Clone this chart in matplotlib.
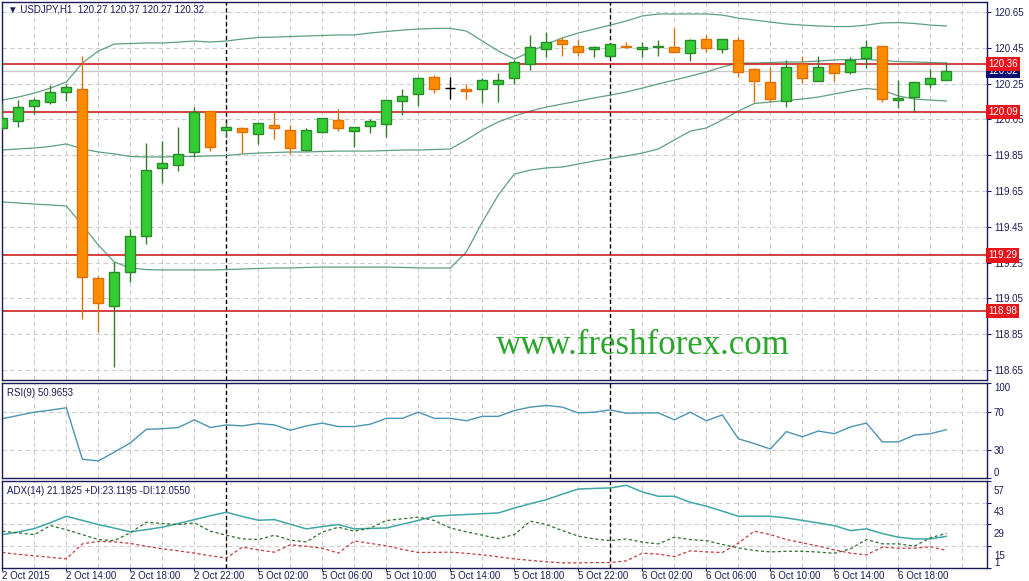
import numpy as np
import matplotlib
matplotlib.use("Agg")
import matplotlib.pyplot as plt
from matplotlib.transforms import blended_transform_factory, ScaledTranslation

# hourly USDJPY candles, 2 Oct 10:00 .. 6 Oct 21:00
opens = [120.002, 120.043, 120.127, 120.149, 120.205, 120.218, 119.162, 119.009, 119.196, 119.400,
         119.777, 119.794, 119.866, 120.095, 119.989, 120.002, 119.967, 120.019, 119.989, 119.879,
         119.978, 120.045, 119.987, 120.015, 120.026, 120.151, 120.190, 120.289, 120.227, 120.220,
         120.218, 120.246, 120.280, 120.358, 120.442, 120.494, 120.460, 120.442, 120.406, 120.462,
         120.442, 120.453, 120.453, 120.419, 120.499, 120.442, 120.494, 120.332, 120.257, 120.154,
         120.360, 120.266, 120.360, 120.317, 120.391, 120.460, 120.158, 120.177, 120.246, 120.270]
highs = [120.140, 120.158, 120.171, 120.242, 120.248, 120.404, 119.175, 119.255, 119.438, 119.920,
         119.931, 120.006, 120.118, 120.099, 120.037, 120.005, 120.030, 120.090, 120.019, 120.000,
         120.060, 120.108, 120.010, 120.050, 120.160, 120.220, 120.289, 120.298, 120.285, 120.248,
         120.280, 120.307, 120.382, 120.520, 120.540, 120.509, 120.499, 120.460, 120.475, 120.480,
         120.480, 120.494, 120.562, 120.497, 120.520, 120.500, 120.512, 120.336, 120.341, 120.382,
         120.404, 120.404, 120.364, 120.397, 120.494, 120.462, 120.270, 120.260, 120.332, 120.370]
lows = [119.995, 120.006, 120.080, 120.136, 120.154, 118.933, 118.864, 118.668, 119.143, 119.352,
        119.696, 119.763, 119.842, 119.875, 119.953, 119.864, 119.913, 119.939, 119.855, 119.875,
        119.975, 119.987, 119.898, 119.976, 119.953, 120.076, 120.127, 120.199, 120.164, 120.164,
        120.140, 120.149, 120.246, 120.326, 120.400, 120.406, 120.404, 120.400, 120.400, 120.447,
        120.400, 120.404, 120.428, 120.376, 120.428, 120.419, 120.289, 120.149, 120.149, 120.118,
        120.255, 120.266, 120.266, 120.304, 120.335, 120.149, 120.115, 120.090, 120.227, 120.270]
closes = [120.058, 120.118, 120.158, 120.201, 120.229, 119.171, 119.023, 119.199, 119.399, 119.767,
          119.805, 119.855, 120.090, 119.898, 120.006, 119.978, 120.028, 120.000, 119.889, 119.989,
          120.056, 120.000, 120.006, 120.041, 120.158, 120.181, 120.280, 120.218, 120.227, 120.207,
          120.270, 120.270, 120.369, 120.453, 120.481, 120.470, 120.428, 120.453, 120.471, 120.453,
          120.456, 120.460, 120.428, 120.494, 120.450, 120.497, 120.317, 120.266, 120.164, 120.344,
          120.280, 120.344, 120.308, 120.382, 120.453, 120.164, 120.171, 120.257, 120.280, 120.320]

bb_upper = [120.158, 120.175, 120.197, 120.225, 120.259, 120.365, 120.432, 120.471, 120.474, 120.477,
            120.477, 120.482, 120.488, 120.482, 120.488, 120.499, 120.508, 120.510, 120.513, 120.516,
            120.519, 120.522, 120.522, 120.533, 120.541, 120.549, 120.555, 120.558, 120.559, 120.544,
            120.488, 120.432, 120.387, 120.427, 120.471, 120.505, 120.533, 120.555, 120.577, 120.600,
            120.628, 120.639, 120.639, 120.639, 120.639, 120.633, 120.616, 120.605, 120.594, 120.583,
            120.577, 120.572, 120.569, 120.569, 120.577, 120.589, 120.591, 120.586, 120.577, 120.572]
bb_middle = [119.879, 119.885, 119.890, 119.899, 119.913, 119.885, 119.868, 119.857, 119.843, 119.840,
             119.840, 119.843, 119.843, 119.846, 119.848, 119.857, 119.862, 119.865, 119.868, 119.868,
             119.871, 119.873, 119.873, 119.873, 119.876, 119.879, 119.879, 119.882, 119.885, 119.935,
             119.991, 120.036, 120.069, 120.097, 120.119, 120.136, 120.153, 120.170, 120.186, 120.203,
             120.225, 120.248, 120.270, 120.292, 120.315, 120.343, 120.365, 120.365, 120.368, 120.371,
             120.371, 120.376, 120.382, 120.385, 120.385, 120.379, 120.373, 120.371, 120.368, 120.365]
bb_lower = [119.589, 119.583, 119.577, 119.572, 119.566, 119.460, 119.348, 119.253, 119.220, 119.211,
            119.209, 119.209, 119.209, 119.209, 119.211, 119.214, 119.217, 119.220, 119.220, 119.223,
            119.225, 119.225, 119.225, 119.225, 119.225, 119.223, 119.220, 119.220, 119.220, 119.309,
            119.477, 119.628, 119.745, 119.767, 119.779, 119.784, 119.801, 119.818, 119.832, 119.846,
            119.862, 119.885, 119.935, 119.985, 120.002, 120.047, 120.097, 120.139, 120.147, 120.156,
            120.164, 120.175, 120.192, 120.209, 120.223, 120.214, 120.181, 120.164, 120.158, 120.153]

rsi = [62.5, 66.0, 69.4, 71.5, 74.0, 20.0, 18.2, 27.5, 37.2, 51.4,
       52.0, 53.3, 61.4, 53.3, 56.0, 55.0, 57.5, 56.0, 50.4, 55.0,
       57.9, 54.3, 54.3, 56.8, 62.9, 62.9, 69.4, 62.9, 62.9, 60.4,
       65.0, 65.0, 71.1, 74.7, 76.4, 74.7, 68.6, 69.4, 71.8, 68.3,
       68.6, 68.6, 61.4, 69.4, 60.4, 66.5, 41.5, 36.4, 30.7, 49.0,
       43.6, 49.6, 46.8, 53.9, 57.9, 38.2, 38.2, 45.3, 46.8, 50.97]

adx = [22.3, 24.0, 26.2, 30.0, 34.2, 31.5, 28.8, 26.5, 24.1, 25.5,
       27.1, 29.5, 32.0, 34.5, 36.8, 34.0, 31.6, 32.0, 29.0, 26.0,
       27.5, 28.8, 26.0, 26.3, 26.6, 29.0, 31.5, 34.2, 34.8, 35.3,
       35.8, 36.3, 39.5, 42.3, 44.9, 48.5, 51.8, 52.2, 52.5, 54.2,
       49.9, 47.1, 47.1, 43.2, 40.7, 37.5, 34.2, 34.2, 34.2, 33.1,
       31.5, 29.8, 28.1, 24.9, 26.0, 23.0, 20.6, 19.5, 19.5, 21.18]
plus_di = [24.5, 23.4, 22.3, 28.1, 25.5, 22.3, 19.1, 18.4, 23.5, 30.3,
           29.5, 28.8, 29.9, 24.5, 21.9, 19.5, 19.1, 21.9, 18.7, 17.6,
           23.9, 27.1, 24.5, 26.6, 31.4, 32.5, 33.6, 31.4, 26.6, 24.1,
           21.9, 19.7, 22.3, 31.0, 28.8, 24.9, 21.3, 19.5, 18.4, 19.5,
           17.4, 16.3, 20.6, 19.1, 18.4, 15.9, 13.7, 12.0, 11.1, 11.5,
           11.5, 11.0, 10.2, 13.0, 19.1, 16.3, 16.3, 14.8, 20.2, 23.12]
minus_di = [10.7, 9.5, 8.6, 7.6, 6.6, 16.3, 17.9, 17.6, 16.6, 14.7,
            13.1, 11.8, 10.3, 8.6, 7.1, 14.2, 12.4, 10.9, 15.7, 14.7,
            13.5, 10.3, 18.2, 16.6, 15.0, 12.7, 10.7, 10.8, 10.9, 10.2,
            9.2, 7.9, 6.6, 5.6, 4.7, 4.0, 4.0, 4.2, 4.2, 5.3,
            10.3, 9.6, 8.1, 11.8, 11.1, 10.7, 16.8, 24.5, 22.3, 19.1,
            17.0, 14.8, 12.4, 10.3, 9.2, 14.2, 13.5, 13.5, 14.4, 12.06]

time_labels = ["2 Oct 2015", "2 Oct 14:00", "2 Oct 18:00", "2 Oct 22:00", "5 Oct 02:00",
               "5 Oct 06:00", "5 Oct 10:00", "5 Oct 14:00", "5 Oct 18:00", "5 Oct 22:00",
               "6 Oct 02:00", "6 Oct 06:00", "6 Oct 10:00", "6 Oct 14:00", "6 Oct 18:00"]
day_breaks = [14, 38]
levels = [120.36, 120.09, 119.29, 118.98]
bid = 120.32
price_ticks = [120.65, 120.45, 120.25, 120.05, 119.85, 119.65, 119.45, 119.25, 119.05, 118.85, 118.65]
rsi_ticks = [0, 30, 70, 100]
adx_ticks = [1, 15, 29, 43, 57]

plt.rcParams['font.family'] = ['Liberation Sans', 'DejaVu Sans']
navy = '#1b1b5a'
grid_kw = dict(color='#cccccc', ls=(0, (4, 3)), lw=0.8)

fig = plt.figure(figsize=(10.29, 5.81), dpi=100)
L = 1.7 / 1029
W = 985.3 / 1029
ax = fig.add_axes([L, 1 - 380 / 581, W, 378 / 581])
ax_rsi = fig.add_axes([L, 1 - 478.3 / 581, W, 95.3 / 581], sharex=ax)
ax_adx = fig.add_axes([L, 1 - 567.5 / 581, W, 86.5 / 581], sharex=ax)

x = np.arange(len(closes))
o = np.array(opens)
h = np.array(highs)
l = np.array(lows)
c = np.array(closes)
up = c > o
dn = c < o
doji = c == o

# candles
ax.vlines(x[up], l[up], h[up], color='#2f7f2f', lw=1, zorder=3)
ax.vlines(x[dn], l[dn], h[dn], color='#d9700a', lw=1, zorder=3)
ax.vlines(x[doji], l[doji], h[doji], color='black', lw=1, zorder=3)
ax.bar(x[up], (c - o)[up], bottom=o[up], width=0.62, color='#33cc33',
       edgecolor='#2a8a2a', lw=1, zorder=4)
ax.bar(x[dn], (o - c)[dn], bottom=c[dn], width=0.62, color='#ff8c00',
       edgecolor='#e07000', lw=1, zorder=4)
ax.hlines(c[doji], x[doji] - 0.31, x[doji] + 0.31, color='black', lw=1, zorder=4)

# bollinger bands
for band in (bb_upper, bb_middle, bb_lower):
    ax.plot(x, band, color='#5f9f80', lw=0.9, zorder=2)

for lev in levels:
    ax.axhline(lev, color='#cc2020', lw=1.2, zorder=2)
ax.axhline(bid, color='#c8c8c8', lw=1, zorder=1)

ax.set_ylim(118.594, 120.706)
ax.set_yticks(price_ticks)
ax.set_yticklabels([f'{t:.2f}' for t in price_ticks])

trans = blended_transform_factory(ax.transAxes, ax.transData)
ax.text(1.0012, bid, f'{bid:.2f}', transform=trans, color='white', fontsize=7,
        va='center', ha='left', zorder=6, clip_on=False,
        bbox=dict(boxstyle='square,pad=0.22', fc='#0c0c6e', ec='none'))
for lev in levels:
    ax.text(1.0012, lev, f'{lev:.2f}', transform=trans, color='white', fontsize=7,
            va='center', ha='left', zorder=7, clip_on=False,
            bbox=dict(boxstyle='square,pad=0.22', fc='#e8141c', ec='none'))

ax.text(0.006, 0.979, '\u25bc USDJPY,H1  120.27 120.37 120.27 120.32', transform=ax.transAxes,
        fontsize=7, color=navy, va='center', ha='left')
ax.text(0.651, 0.09, 'www.freshforex.com', transform=ax.transAxes, fontsize=25,
        family='Liberation Serif', color='#2ba52b', ha='center', va='center')

# RSI
ax_rsi.plot(x, rsi, color='#4d93b3', lw=1)
ax_rsi.set_ylim(0, 100)
ax_rsi.set_yticks(rsi_ticks)
ax_rsi.set_yticklabels([str(t) for t in rsi_ticks])
ax_rsi.text(0.005, 0.892, 'RSI(9) 50.9653', transform=ax_rsi.transAxes, fontsize=7,
            color=navy, va='center', ha='left')

# ADX
ax_adx.plot(x, adx, color='#41a6a6', lw=1.1)
ax_adx.plot(x, plus_di, color='#2f6f2f', lw=0.9, ls=(0, (2.5, 2)))
ax_adx.plot(x, minus_di, color='#c43c3c', lw=0.9, ls=(0, (2.5, 2)))
ax_adx.set_ylim(1, 57)
ax_adx.set_yticks(adx_ticks)
ax_adx.set_yticklabels([str(t) for t in adx_ticks])
ax_adx.text(0.005, 0.884, 'ADX(14) 21.1825 +DI:23.1195 -DI:12.0550', transform=ax_adx.transAxes,
            fontsize=7, color=navy, va='center', ha='left')

ax.set_xlim(-0.04, 61.54)
ax_adx.set_xticks(range(0, 60, 4))
ax_adx.set_xticks(range(0, 62, 2), minor=True)
ax_adx.set_xticklabels(time_labels, ha='left')

for a in (ax, ax_rsi, ax_adx):
    a.set_axisbelow(True)
    a.grid(True, which='both', **grid_kw)
    for d in day_breaks:
        a.axvline(d, color='black', lw=1, ls=(0, (3, 2)), zorder=1.5)
    a.yaxis.tick_right()
    a.tick_params(axis='y', direction='out', length=3, width=0.8, color=navy,
                  labelsize=7, labelcolor=navy, pad=2)
    a.tick_params(axis='x', which='both', length=0)
    for s in a.spines.values():
        s.set_color(navy)
        s.set_linewidth(1)
    a.set_facecolor('white')

for a in (ax, ax_rsi):
    a.tick_params(axis='x', labelbottom=False)
ax_adx.tick_params(axis='x', which='major', length=2, color=navy, labelsize=7,
                   labelcolor=navy, pad=0.5)

rl = ax_rsi.get_yticklabels()
rl[0].set_va('bottom')
rl[-1].set_va('top')

# ADX scale labels sit a little below their grid lines, as in the terminal
shift = ScaledTranslation(0, -3.5 / 72, fig.dpi_scale_trans)
for i, tk in enumerate(ax_adx.yaxis.get_major_ticks()):
    if i == 0:
        tk.label2.set_va('bottom')
    else:
        tk.label2.set_va('top')
        tk.label2.set_transform(tk.label2.get_transform() + shift)

fig.savefig('out.png', dpi=100, facecolor='white')
